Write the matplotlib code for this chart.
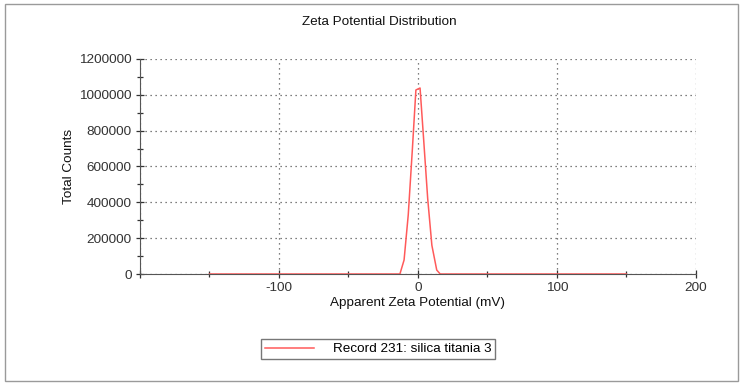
import matplotlib.pyplot as plt
from matplotlib.patches import Rectangle
from matplotlib.ticker import MultipleLocator, FuncFormatter

plt.rcParams['font.family'] = ['Liberation Sans', 'DejaVu Sans']
plt.rcParams['axes.unicode_minus'] = False

# zeta distribution for record 231
zeta_mv = [-150, -20, -13, -10, -7, -4, -1.5, 1.5, 4, 7, 10, 13.5, 16, 30, 150]
counts = [0, 0, 0, 78000, 330000, 700000, 1027000, 1038000, 760000, 420000, 160000, 22000, 0, 0, 0]

title = "Zeta Potential Distribution"
xlabel = "Apparent Zeta Potential (mV)"
ylabel = "Total Counts"
series_name = "Record 231: silica titania 3"

fig = plt.figure(figsize=(7.43, 3.85), dpi=100)
fig.patches.append(Rectangle((0.007, 0.01), 0.986, 0.98, transform=fig.transFigure,
                             fill=False, edgecolor='#9a9a9a', linewidth=1))
ax = fig.add_axes([0.1884, 0.2883, 0.7483, 0.5585])

line, = ax.plot(zeta_mv, counts, color='#ff5a5a', linewidth=1.1, label=series_name)

ax.set_xlim(-200, 200)
ax.set_ylim(0, 1200000)
ax.xaxis.set_major_locator(MultipleLocator(100))
ax.xaxis.set_minor_locator(MultipleLocator(50))
ax.yaxis.set_major_locator(MultipleLocator(200000))
ax.yaxis.set_minor_locator(MultipleLocator(100000))
ax.xaxis.set_major_formatter(FuncFormatter(lambda v, p: '' if v <= -200 else f'{v:.0f}'))
ax.yaxis.set_major_formatter(FuncFormatter(lambda v, p: f'{v:.0f}'))
ax.grid(True, which='major', linestyle=(0, (1, 3)), color='#555555', linewidth=0.9)

for side in ('top', 'right'):
    ax.spines[side].set_visible(False)
for side in ('left', 'bottom'):
    ax.spines[side].set_color('#555555')
ax.tick_params(which='major', direction='inout', length=6, width=0.9, color='#333333',
               labelsize=9.7, labelcolor='#333333', pad=3)
ax.tick_params(which='minor', direction='inout', length=5, width=0.9, color='#333333')

fig.text(0.511, 0.943, title, fontsize=9.7, ha='center', va='center', color='#111111')
ax.set_xlabel(xlabel, fontsize=9.7, labelpad=2, color='#111111')
ax.set_ylabel(ylabel, fontsize=9.7, labelpad=3, color='#111111')

fig.legend(handles=[line], loc='center', bbox_to_anchor=(0.509, 0.0935), fontsize=9.7,
           frameon=True, fancybox=False, edgecolor='#555555', handlelength=3.6,
           borderpad=0.3, handletextpad=1.4).get_frame().set_linewidth(1)

fig.savefig('out.png', dpi=100)
